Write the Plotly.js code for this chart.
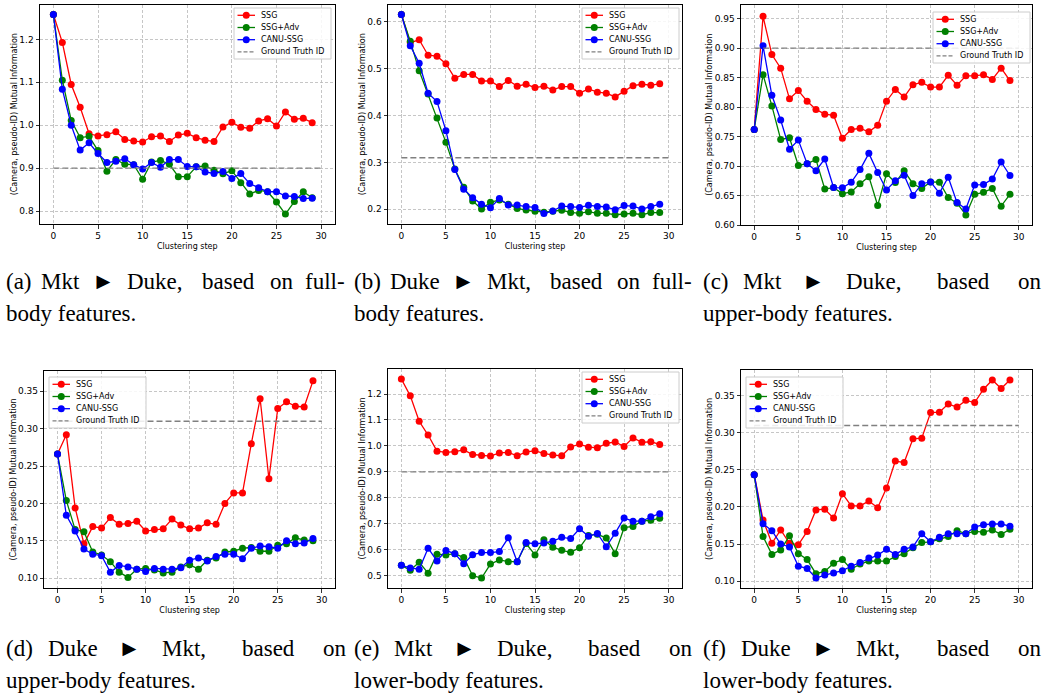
<!DOCTYPE html>
<html>
<head>
<meta charset="utf-8">
<script src="https://cdn.plot.ly/plotly-3.0.1.min.js"></script>
<style>
html, body { margin: 0; padding: 0; background: #ffffff; }
#chart { width: 1043px; height: 697px; }
</style>
</head>
<body>
<div id="chart"></div>
<script>
// ---------------- DATA ----------------
const steps = [0,1,2,3,4,5,6,7,8,9,10,11,12,13,14,15,16,17,18,19,20,21,22,23,24,25,26,27,28,29];
const gtSpan = [0, 30];
const seriesNames = ['SSG', 'SSG+Adv', 'CANU-SSG'];
const gtName = 'Ground Truth ID';
const xTitle = 'Clustering step';
const yTitle = '(Camera, pseudo-ID) Mutual Information';
const xTicks = [0, 5, 10, 15, 20, 25, 30];

// (a) Mkt -> Duke, full-body
const ssgA  = [1.258,1.193,1.095,1.042,0.980,0.975,0.978,0.985,0.967,0.963,0.961,0.973,0.975,0.962,0.977,0.981,0.971,0.965,0.962,0.996,1.007,0.995,0.993,1.010,1.015,0.998,1.031,1.014,1.016,1.006];
const advA  = [1.258,1.105,1.011,0.971,0.974,0.941,0.893,0.920,0.909,0.908,0.874,0.914,0.918,0.909,0.880,0.880,0.903,0.905,0.895,0.887,0.894,0.866,0.840,0.848,0.845,0.821,0.793,0.822,0.845,0.831];
const canuA = [1.258,1.084,1.000,0.942,0.959,0.934,0.913,0.916,0.922,0.908,0.898,0.913,0.902,0.920,0.920,0.904,0.903,0.891,0.8875,0.892,0.876,0.8875,0.864,0.854,0.845,0.845,0.835,0.834,0.829,0.830];
const gtA = 0.9;

// (b) Duke -> Mkt, full-body
const ssgB  = [0.616,0.556,0.562,0.529,0.527,0.511,0.480,0.488,0.488,0.474,0.474,0.462,0.475,0.463,0.467,0.460,0.463,0.455,0.462,0.462,0.448,0.457,0.450,0.448,0.440,0.452,0.464,0.467,0.465,0.468];
const advB  = [0.616,0.559,0.496,0.446,0.395,0.343,0.286,0.247,0.218,0.2005,0.215,0.220,0.211,0.202,0.1985,0.196,0.194,0.196,0.198,0.1935,0.1915,0.195,0.1915,0.1915,0.1885,0.190,0.1915,0.1885,0.193,0.193];
const canuB = [0.616,0.549,0.512,0.448,0.430,0.368,0.285,0.243,0.225,0.211,0.2035,0.223,0.209,0.209,0.206,0.204,0.191,0.1965,0.207,0.206,0.204,0.2085,0.206,0.205,0.199,0.208,0.207,0.2005,0.206,0.211];
const gtB = 0.31;

// (c) Mkt -> Duke, upper-body
const ssgC  = [0.762,0.954,0.889,0.866,0.814,0.828,0.810,0.796,0.788,0.786,0.747,0.762,0.764,0.758,0.769,0.810,0.830,0.817,0.838,0.842,0.834,0.834,0.854,0.837,0.853,0.853,0.855,0.847,0.866,0.845];
const advC  = [0.762,0.855,0.802,0.745,0.748,0.701,0.704,0.711,0.661,0.6635,0.653,0.656,0.670,0.682,0.633,0.687,0.672,0.692,0.670,0.662,0.673,0.6725,0.6465,0.637,0.617,0.652,0.6555,0.662,0.632,0.652];
const canuC = [0.762,0.904,0.820,0.778,0.7285,0.744,0.704,0.692,0.712,0.6635,0.663,0.6725,0.694,0.7215,0.689,0.6595,0.675,0.6845,0.650,0.670,0.673,0.654,0.681,0.638,0.627,0.668,0.6685,0.678,0.707,0.684];
const gtC = 0.9;

// (d) Duke -> Mkt, upper-body
const ssgD  = [0.266,0.292,0.194,0.146,0.169,0.167,0.181,0.172,0.173,0.176,0.163,0.165,0.166,0.179,0.171,0.166,0.167,0.174,0.172,0.200,0.214,0.214,0.280,0.340,0.233,0.327,0.336,0.330,0.329,0.364];
const advD  = [0.266,0.204,0.165,0.162,0.135,0.131,0.122,0.108,0.101,0.112,0.113,0.111,0.107,0.108,0.115,0.118,0.112,0.124,0.127,0.135,0.136,0.140,0.141,0.136,0.136,0.144,0.146,0.154,0.151,0.150];
const canuD = [0.266,0.184,0.163,0.139,0.132,0.130,0.108,0.117,0.115,0.112,0.109,0.113,0.112,0.112,0.114,0.124,0.127,0.123,0.129,0.132,0.132,0.126,0.140,0.143,0.142,0.140,0.150,0.146,0.147,0.153];
const gtD = 0.31;

// (e) Mkt -> Duke, lower-body
const ssgE  = [1.258,1.193,1.095,1.042,0.980,0.975,0.978,0.985,0.967,0.963,0.961,0.973,0.975,0.962,0.977,0.981,0.971,0.965,0.962,0.996,1.007,0.995,0.993,1.010,1.015,0.998,1.031,1.014,1.016,1.006];
const advE  = [0.540,0.521,0.552,0.510,0.583,0.580,0.585,0.570,0.500,0.491,0.545,0.561,0.554,0.554,0.624,0.580,0.639,0.610,0.598,0.590,0.608,0.655,0.660,0.645,0.585,0.685,0.690,0.710,0.714,0.721];
const canuE = [0.540,0.530,0.525,0.606,0.557,0.597,0.585,0.546,0.581,0.589,0.589,0.593,0.646,0.554,0.628,0.623,0.626,0.633,0.648,0.643,0.681,0.652,0.663,0.612,0.664,0.722,0.710,0.710,0.727,0.739];
const gtE = 0.9;

// (f) Duke -> Mkt, lower-body
const ssgF  = [0.2437,0.1825,0.151,0.169,0.151,0.149,0.167,0.196,0.197,0.185,0.218,0.2015,0.2015,0.208,0.199,0.2255,0.262,0.260,0.292,0.293,0.3275,0.328,0.339,0.335,0.344,0.341,0.359,0.3715,0.360,0.3715];
const advF  = [0.2437,0.160,0.136,0.142,0.161,0.137,0.129,0.110,0.113,0.124,0.129,0.116,0.123,0.127,0.127,0.127,0.133,0.137,0.145,0.152,0.153,0.157,0.160,0.168,0.164,0.167,0.166,0.169,0.163,0.170];
const canuF = [0.2437,0.1775,0.168,0.150,0.146,0.120,0.117,0.104,0.108,0.111,0.114,0.120,0.125,0.131,0.135,0.143,0.136,0.143,0.146,0.164,0.153,0.159,0.164,0.164,0.164,0.173,0.176,0.177,0.177,0.174];
const gtF = 0.31;

// captions
const capA1 = ['(a)', 'Mkt', '\u25BA', 'Duke,', 'based', 'on', 'full-'];
const capA2 = 'body features.';
const capB1 = ['(b)', 'Duke', '\u25BA', 'Mkt,', 'based', 'on', 'full-'];
const capB2 = 'body features.';
const capC1 = ['(c)', 'Mkt', '\u25BA', 'Duke,', 'based', 'on'];
const capC2 = 'upper-body features.';
const capD1 = ['(d)', 'Duke', '\u25BA', 'Mkt,', 'based', 'on'];
const capD2 = 'upper-body features.';
const capE1 = ['(e)', 'Mkt', '\u25BA', 'Duke,', 'based', 'on'];
const capE2 = 'lower-body features.';
const capF1 = ['(f)', 'Duke', '\u25BA', 'Mkt,', 'based', 'on'];
const capF2 = 'lower-body features.';

// ---------------- LAYOUT / STYLE ----------------
const W = 1043, H = 697;
const px = v => v / W;
const py = v => 1 - v / H;
const colors = ['#ff0000', '#008000', '#0000ff'];
const gtColor = '#808080';
const sans = 'DejaVu Sans';
const serif = 'Liberation Serif';
const capSize = 23;
// stretch weights of the inter-word gaps (TeX-like justification)
const gapWeights = [0.6, 1, 1, 2, 1.5, 1];
const naturalGap = 5.5;

const panels = [
  {series: [ssgA, advA, canuA], gt: gtA, yRange: [0.7698, 1.2813], dtick: 0.1, fmt: '.1f', box: [40, 334.5, 4.5, 224], leg: [234, 8], cap1: capA1, cap2: capA2, capBox: [5, 344, 282, 314]},
  {series: [ssgB, advB, canuB], gt: gtB, yRange: [0.1687, 0.6373], dtick: 0.1, fmt: '.1f', box: [388, 682, 4.5, 224], leg: [582, 8], cap1: capB1, cap2: capB2, capBox: [353, 691, 282, 314]},
  {series: [ssgC, advC, canuC], gt: gtC, yRange: [0.6000, 0.9740], dtick: 0.05, fmt: '.2f', box: [741, 1032, 4.5, 225], leg: [933, 12], cap1: capC1, cap2: capC2, capBox: [702, 1040, 282, 314]},
  {series: [ssgD, advD, canuD], gt: gtD, yRange: [0.0868, 0.3772], dtick: 0.05, fmt: '.2f', box: [44.3, 335, 371, 588], leg: [49, 377], cap1: capD1, cap2: capD2, capBox: [5, 345, 648, 680]},
  {series: [ssgE, advE, canuE], gt: gtE, yRange: [0.4527, 1.2964], dtick: 0.1, fmt: '.1f', box: [388, 682, 369, 588], leg: [582, 372], cap1: capE1, cap2: capE2, capBox: [353, 691, 648, 680]},
  {series: [ssgF, advF, canuF], gt: gtF, yRange: [0.0906, 0.3850], dtick: 0.05, fmt: '.2f', box: [741, 1032, 370, 588], leg: [746, 377], cap1: capF1, cap2: capF2, capBox: [702, 1040, 648, 680]},
];

// text measurement for justified captions
const cvs = document.createElement('canvas');
const ctx = cvs.getContext('2d');
ctx.font = capSize + 'px "' + serif + '"';
const tw = s => ctx.measureText(s).width;

const traces = [];
const shapes = [];
const annotations = [];
const layout = {
  width: W, height: H,
  margin: {l: 0, r: 0, t: 0, b: 0},
  paper_bgcolor: '#ffffff',
  plot_bgcolor: '#ffffff',
  showlegend: false,
  font: {family: sans, size: 9, color: '#000000'},
};

panels.forEach((p, i) => {
  const n = i + 1;
  const xa = n === 1 ? 'xaxis' : 'xaxis' + n;
  const ya = n === 1 ? 'yaxis' : 'yaxis' + n;
  const xr = n === 1 ? 'x' : 'x' + n;
  const yr = n === 1 ? 'y' : 'y' + n;
  const [L, R, T, B] = p.box;

  const common = {
    showline: true, mirror: true, linecolor: '#000000', linewidth: 1,
    ticks: 'outside', ticklen: 3.5, tickwidth: 0.8, tickcolor: '#000000',
    showgrid: true, gridcolor: '#b8b8b8', gridwidth: 0.8, griddash: '3px,2px',
    zeroline: false, automargin: false,
    tickfont: {family: sans, size: 9, color: '#000000'},
  };
  layout[xa] = Object.assign({}, common, {
    domain: [px(L), px(R)], anchor: yr,
    range: [-1.5, 31.5], tickmode: 'array', tickvals: xTicks,
    title: {text: xTitle, font: {family: sans, size: 8, color: '#000000'}, standoff: 3},
  });
  layout[ya] = Object.assign({}, common, {
    domain: [py(B), py(T)], anchor: xr,
    range: p.yRange, dtick: p.dtick, tick0: 0, tickformat: p.fmt,
    title: {text: yTitle, font: {family: sans, size: 8, color: '#000000'}, standoff: 0},
  });

  p.series.forEach((vals, k) => {
    traces.push({
      type: 'scatter', mode: 'lines+markers', name: seriesNames[k],
      x: steps, y: vals, xaxis: xr, yaxis: yr,
      line: {color: colors[k], width: 1.3},
      marker: {color: colors[k], size: 7, line: {width: 0}},
      cliponaxis: false,
    });
  });
  traces.push({
    type: 'scatter', mode: 'lines', name: gtName,
    x: gtSpan, y: [p.gt, p.gt], xaxis: xr, yaxis: yr,
    line: {color: gtColor, width: 1.4, dash: '6px,3px'},
  });

  // legend box (matplotlib style)
  const [lx, ly] = p.leg;
  const lw = 97, lh = 51;
  shapes.push({
    type: 'rect', xref: 'paper', yref: 'paper', layer: 'above',
    x0: px(lx), x1: px(lx + lw), y0: py(ly + lh), y1: py(ly),
    fillcolor: 'rgba(255,255,255,0.85)', line: {color: '#cccccc', width: 1},
  });
  const rowY = [7.3, 19.5, 31.7, 43.9];
  const labels = seriesNames.concat([gtName]);
  labels.forEach((lab, k) => {
    const yy = py(ly + rowY[k]);
    const c = k < 3 ? colors[k] : gtColor;
    shapes.push({
      type: 'line', xref: 'paper', yref: 'paper', layer: 'above',
      x0: px(lx + 3.5), x1: px(lx + 21), y0: yy, y1: yy,
      line: {color: c, width: k < 3 ? 1.3 : 1.4, dash: k < 3 ? 'solid' : '4px,2px'},
    });
    if (k < 3) {
      shapes.push({
        type: 'circle', xref: 'paper', yref: 'paper', layer: 'above',
        xsizemode: 'pixel', ysizemode: 'pixel',
        xanchor: px(lx + 12.25), yanchor: yy,
        x0: -3.5, x1: 3.5, y0: -3.5, y1: 3.5,
        fillcolor: c, line: {color: c, width: 0},
      });
    }
    annotations.push({
      xref: 'paper', yref: 'paper', x: px(lx + 26), y: yy,
      xanchor: 'left', yanchor: 'middle', showarrow: false,
      text: lab, font: {family: sans, size: 8, color: '#000000'}, borderpad: 0,
    });
  });

  // captions: line 1 justified (weighted stretch), line 2 left
  const [cL, cR, cy1, cy2] = p.capBox;
  const widths = p.cap1.map(tw);
  const total = widths.reduce((a, b) => a + b, 0);
  const nGaps = p.cap1.length - 1;
  const wts = gapWeights.slice(0, nGaps);
  const wSum = wts.reduce((a, b) => a + b, 0);
  const unit = (cR - cL - total - nGaps * naturalGap) / wSum;
  let cx = cL;
  p.cap1.forEach((w, k) => {
    annotations.push({
      xref: 'paper', yref: 'paper', x: px(cx), y: py(cy1),
      xanchor: 'left', yanchor: 'middle', showarrow: false, borderpad: 0,
      text: w, font: {family: serif, size: capSize, color: '#000000'},
    });
    if (k < nGaps) cx += widths[k] + naturalGap + wts[k] * unit;
  });
  annotations.push({
    xref: 'paper', yref: 'paper', x: px(cL), y: py(cy2),
    xanchor: 'left', yanchor: 'middle', showarrow: false, borderpad: 0,
    text: p.cap2, font: {family: serif, size: capSize, color: '#000000'},
  });
});

layout.shapes = shapes;
layout.annotations = annotations;

Plotly.newPlot('chart', traces, layout, {staticPlot: true, displayModeBar: false});
</script>
</body>
</html>
